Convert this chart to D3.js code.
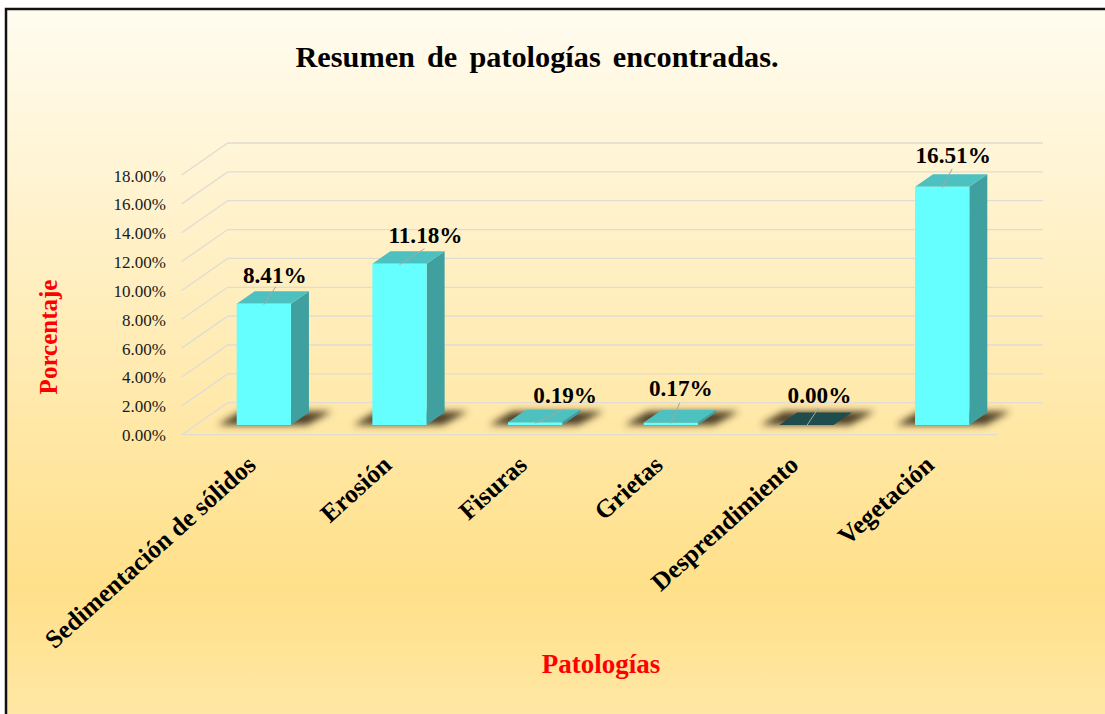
<!DOCTYPE html>
<html>
<head>
<meta charset="utf-8">
<style>
  html, body { margin: 0; padding: 0; background: #fff; overflow: hidden; }
  text { font-family: "Liberation Serif", serif; }
</style>
<script src="https://cdn.jsdelivr.net/npm/d3@7/dist/d3.min.js"></script>
</head>
<body>
<div id="chart"></div>
<script>
const categories = ["Sedimentación de sólidos", "Erosión", "Fisuras", "Grietas", "Desprendimiento", "Vegetación"]
const values = [8.41, 11.18, 0.19, 0.17, 0.00, 16.51]
const valueLabels = ["8.41%", "11.18%", "0.19%", "0.17%", "0.00%", "16.51%"]
const yTicks = [0, 2, 4, 6, 8, 10, 12, 14, 16, 18]

const W = 1105, H = 714
const COLORS = {
  front: "#66ffff", top: "#4dc0c0", side: "#40a0a0",
  emptyTop: "#1f4d4d", shadow: "#3a2c14", grid: "#dfdcd4", red: "#ff0000",
}

// label offset from the bar's top front centre, read per bar
const labelDx = [11, 26, 30, 10, 13, 11]
const labelDy = [-21, -21, -19, -27, -22, -24]
const leaderDx = [12, 25, 29, 9, 12, 10]
const leaderDy = [-17, -15, -13, -20, -17, -18]

const y = d3.scaleLinear().domain([0, 18]).range([434.7, 175])
const x = d3.scaleBand().domain(categories).range([196, 1010]).paddingInner(0.6).paddingOuter(0.3)

const depth = { x: 46, y: -32 }       // wall depth
const barDepth = { x: 18, y: -12.5 }  // bar depth
const floorShift = -9.7               // bars stand a bit inside the floor

const svg = d3.select("#chart").append("svg")
  .attr("width", W).attr("height", H).style("display", "block")

const defs = svg.append("defs")
const grad = defs.append("linearGradient").attr("id", "bg")
  .attr("x1", 0).attr("y1", 0).attr("x2", 0).attr("y2", 1)
grad.append("stop").attr("offset", "0").attr("stop-color", "#fffcf0")
grad.append("stop").attr("offset", "0.81").attr("stop-color", "#ffe08a")
grad.append("stop").attr("offset", "1").attr("stop-color", "#ffe8a6")
defs.append("filter").attr("id", "blur").attr("x", "-30%").attr("y", "-80%").attr("width", "160%").attr("height", "260%")
  .append("feGaussianBlur").attr("stdDeviation", 3.5)

svg.append("rect").attr("width", W).attr("height", H).attr("fill", "#fff")
svg.append("rect").attr("x", 6).attr("y", 9).attr("width", W).attr("height", H)
  .attr("fill", "url(#bg)").attr("stroke", "#111").attr("stroke-width", 2.5)

svg.append("text").attr("x", 537).attr("y", 67).attr("text-anchor", "middle")
  .attr("font-size", 30.3).attr("font-weight", "bold").attr("word-spacing", 4.5).attr("fill", "#000")
  .text("Resumen de patologías encontradas.")

// Grid on the wall and the floor
const gridLeft = 181.7, gridRight = 997
const grid = svg.append("g").attr("fill", "none").attr("stroke", COLORS.grid).attr("stroke-width", 1.3)
yTicks.forEach(t => {
  const yy = y(t)
  grid.append("path").attr("d", d3.line()([
    [gridLeft, yy], [gridLeft + depth.x, yy + depth.y], [gridRight + depth.x, yy + depth.y],
  ]))
})
grid.append("line").attr("x1", gridLeft).attr("x2", gridRight).attr("y1", y(0)).attr("y2", y(0))

// Value axis labels
svg.append("g").selectAll("text").data(yTicks).join("text")
  .attr("x", 166).attr("y", d => y(d) + 6.5).attr("text-anchor", "end")
  .attr("font-size", 17).attr("fill", "#1a1a1a")
  .text(d => d.toFixed(2) + "%")

// Bars
const base = y(0) + floorShift
const bars = svg.append("g").selectAll("g").data(categories).join("g")

const poly = pts => d3.line()(pts) + "Z"
bars.each(function(c, i) {
  const g = d3.select(this)
  const x0 = x(c), x1 = x0 + x.bandwidth()
  const top = base - (y(0) - y(values[i]))
  const empty = values[i] === 0
  // floor shadow
  g.append("path").attr("filter", "url(#blur)").attr("fill", COLORS.shadow).attr("fill-opacity", 0.9)
    .attr("d", poly([[x0 - 19, base], [x0 + 4, base + barDepth.y - 1], [x1 + 41, base + barDepth.y - 1], [x1 + 16, base]]))
  g.append("path").attr("fill", COLORS.side)
    .attr("d", poly([[x1, base], [x1 + barDepth.x, base + barDepth.y], [x1 + barDepth.x, top + barDepth.y], [x1, top]]))
  g.append("path").attr("fill", empty ? COLORS.emptyTop : COLORS.top)
    .attr("d", poly([[x0, top], [x0 + barDepth.x, top + barDepth.y], [x1 + barDepth.x, top + barDepth.y], [x1, top]]))
  g.append("rect").attr("x", x0).attr("y", top).attr("width", x.bandwidth()).attr("height", base - top)
    .attr("fill", COLORS.front)
  // leader line and value label
  const cx = (x0 + x1) / 2
  g.append("line").attr("x1", cx).attr("y1", top + 1).attr("x2", cx + leaderDx[i]).attr("y2", top + leaderDy[i])
    .attr("stroke", "#a6a6a6").attr("stroke-width", 1)
  g.append("text").attr("x", cx + labelDx[i]).attr("y", top + labelDy[i]).attr("text-anchor", "middle")
    .attr("font-size", 23.2).attr("font-weight", "bold").attr("fill", "#000")
    .text(valueLabels[i])
})

// Category labels
svg.append("g").selectAll("text").data(categories).join("text")
  .attr("text-anchor", "end").attr("font-size", 25.6).attr("font-weight", "bold").attr("fill", "#000")
  .attr("transform", c => `translate(${x(c) + x.bandwidth() / 2 - 6.5},${467}) rotate(-42)`)
  .text(c => c)

// Axis titles
svg.append("text").attr("transform", "translate(57,337) rotate(-90)").attr("text-anchor", "middle")
  .attr("font-size", 25).attr("font-weight", "bold").attr("fill", COLORS.red).text("Porcentaje")
svg.append("text").attr("x", 601).attr("y", 673).attr("text-anchor", "middle")
  .attr("font-size", 27).attr("font-weight", "bold").attr("fill", COLORS.red).text("Patologías")
</script>
</body>
</html>
